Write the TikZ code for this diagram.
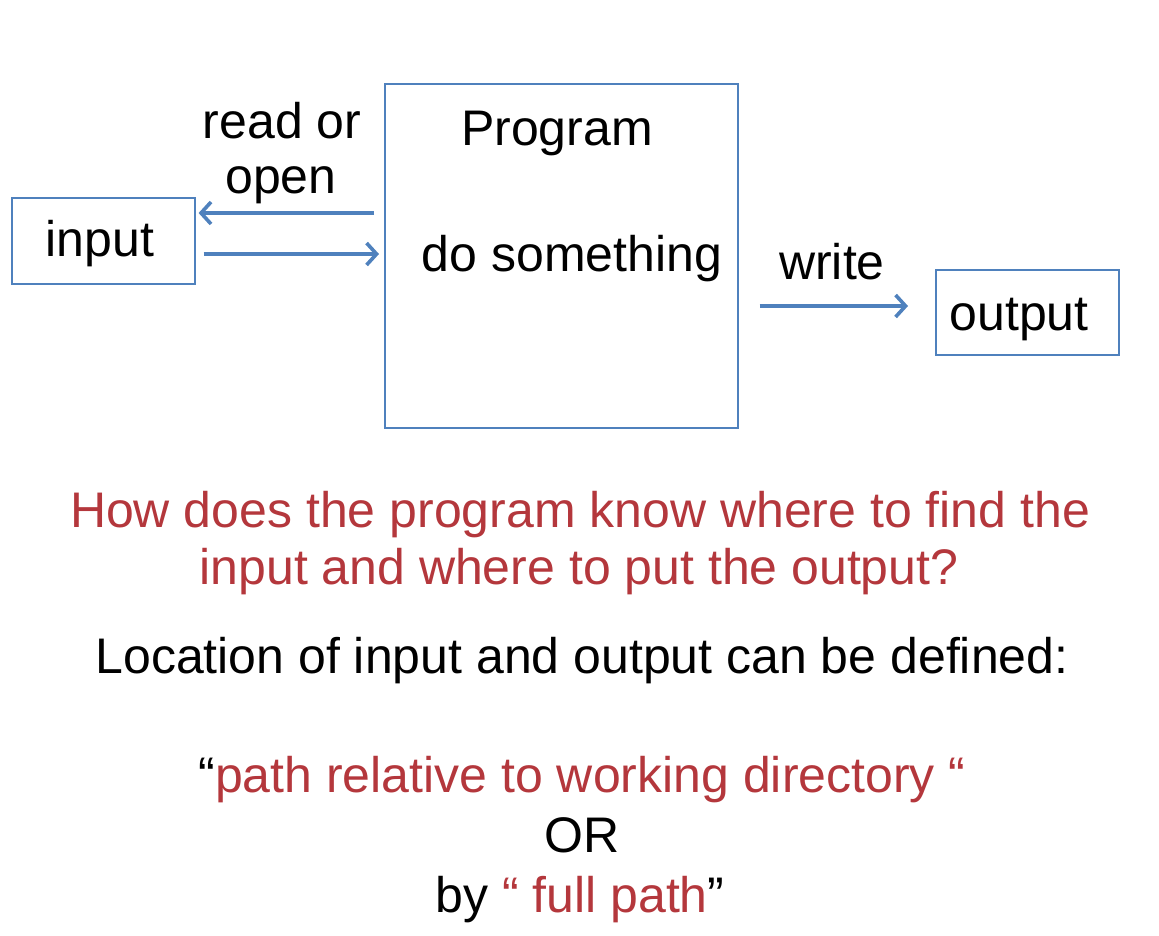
\documentclass[tikz,border=0pt]{standalone}
\usepackage{fontspec}
\setmainfont{Liberation Sans}
\usetikzlibrary{arrows.meta}
\definecolor{boxblue}{RGB}{79,129,189}
\definecolor{qred}{RGB}{180,55,60}
\begin{document}
\begin{tikzpicture}[x=1pt,y=-1pt,
  box/.style={draw=boxblue, line width=1.6pt, inner sep=0pt, anchor=north west},
  arr/.style={draw=boxblue, line width=3.6pt, -{Straight Barb[length=10pt,width=22pt]}},
  txt/.style={font=\fontsize{50}{60}\selectfont, anchor=base, inner sep=0pt},
  rtxt/.style={txt, text=qred},
]
\useasboundingbox (0,0) rectangle (1159,935);
% boxes
\node[box, minimum width=353pt, minimum height=344pt] (prog) at (384,83) {};
\node[box, minimum width=183pt, minimum height=86pt] (in) at (11,197) {};
\node[box, minimum width=183pt, minimum height=85pt] (out) at (935,269) {};
% box texts
\node[txt] (progt) at (557,145) {Program};
\node[txt] (dost) at (572,271) {do something};
\node[txt] (int) at (100,256) {input};
\node[txt] (outt) at (1019,330) {output};
% arrow labels
\node[txt] (rd) at (282,138) {read or};
\node[txt] (op) at (281,193) {open};
\node[txt] (wr) at (832,279) {write};
% arrows
\coordinate (ya) at (0,213);
\coordinate (yb) at (0,254);
\coordinate (yc) at (0,306);
\draw[arr, shorten <=10pt, shorten >=3pt] (prog.west |- ya) -- (in.east |- ya);
\draw[arr, shorten <=8pt, shorten >=5pt] (in.east |- yb) -- (prog.west |- yb);
\draw[arr, shorten <=21pt, shorten >=27pt] (prog.east |- yc) -- (out.west |- yc);
% bottom text
\node[rtxt] (q1) at (580,527) {How does the program know where to find the};
\node[rtxt] (q2) at (579,584) {input and where to put the output?};
\node[txt] (loc) at (582,673) {Location of input and output can be defined:};
\node[txt] (rel) at (582,792) {“\textcolor{qred}{path relative to working directory “}};
\node[txt] (or) at (582,852) {OR};
\node[txt] (full) at (580,912) {by \textcolor{qred}{“ full path}”};
\end{tikzpicture}
\end{document}
